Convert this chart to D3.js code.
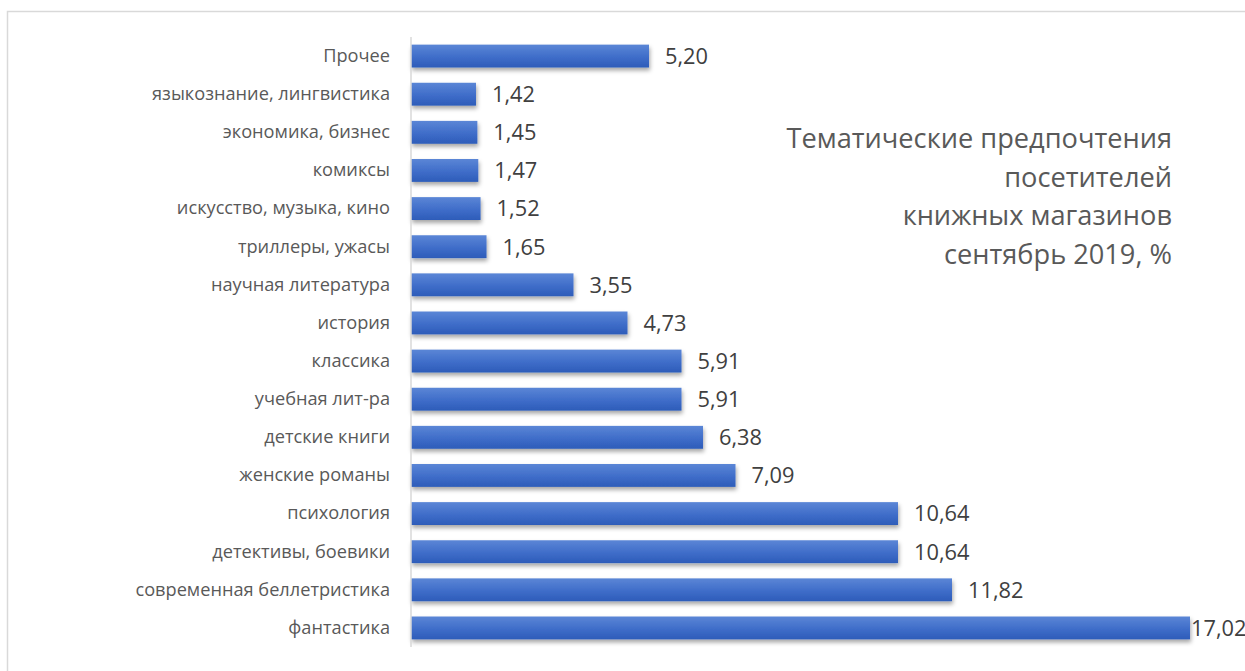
<!DOCTYPE html>
<html>
<head>
<meta charset="utf-8">
<script src="https://cdn.jsdelivr.net/npm/d3@7/dist/d3.min.js"></script>
<style>
  html, body { margin: 0; padding: 0; background: #fff; }
  svg { display: block; }
  text { font-family: "Open Sans", "Noto Sans", sans-serif; }
</style>
</head>
<body>
<svg id="chart" width="1245" height="671"></svg>
<script>
// Book genre categories, top to bottom
const categories = [
  "Прочее",
  "языкознание, лингвистика",
  "экономика, бизнес",
  "комиксы",
  "искусство, музыка, кино",
  "триллеры, ужасы",
  "научная литература",
  "история",
  "классика ",
  "учебная лит-ра",
  "детские книги",
  "женские романы",
  "психология",
  "детективы, боевики",
  "современная беллетристика",
  "фантастика"
];

// Share of visitors, %
const values = [5.20, 1.42, 1.45, 1.47, 1.52, 1.65, 3.55, 4.73, 5.91, 5.91, 6.38, 7.09, 10.64, 10.64, 11.82, 17.02];

const titleLines = [
  "Тематические предпочтения",
  "посетителей",
  "книжных магазинов",
  "сентябрь 2019, %"
];

const fmt = v => d3.format(".2f")(v).replace(".", ",");

const svg = d3.select("#chart");

// Chart frame
svg.append("rect")
  .attr("x", 7.5).attr("y", 11.5)
  .attr("width", 1300).attr("height", 700)
  .attr("fill", "none")
  .attr("stroke", "#d9d9d9")
  .attr("stroke-width", 1.5);

const defs = svg.append("defs");
const grad = defs.append("linearGradient")
  .attr("id", "barGrad")
  .attr("x1", 0).attr("y1", 0).attr("x2", 0).attr("y2", 1);
grad.append("stop").attr("offset", "0%").attr("stop-color", "#5b86d6");
grad.append("stop").attr("offset", "55%").attr("stop-color", "#3f6dc9");
grad.append("stop").attr("offset", "100%").attr("stop-color", "#2d5cb9");

const shadow = defs.append("filter")
  .attr("id", "barShadow")
  .attr("x", "-5%").attr("y", "-30%").attr("width", "115%").attr("height", "180%");
shadow.append("feDropShadow")
  .attr("dx", 1).attr("dy", 3)
  .attr("stdDeviation", 2)
  .attr("flood-color", "#000")
  .attr("flood-opacity", 0.35);

const x0 = 411;
const x = d3.scaleLinear().domain([0, 18]).range([x0, x0 + 18 * 45.77]);
const y = d3.scaleBand().domain(categories).range([37, 647]).paddingInner(0.4).paddingOuter(0.2);

// Bars
svg.append("g")
  .selectAll("rect")
  .data(categories)
  .join("rect")
  .attr("x", x(0))
  .attr("y", d => y(d))
  .attr("width", (d, i) => x(values[i]) - x(0))
  .attr("height", y.bandwidth())
  .attr("fill", "url(#barGrad)")
  .attr("filter", "url(#barShadow)");

// Category axis
const yAxis = svg.append("g")
  .attr("transform", `translate(${x0},0)`)
  .call(d3.axisLeft(y).tickSize(0).tickPadding(21));
yAxis.select(".domain")
  .attr("d", `M0,37V647`)
  .attr("stroke", "#d9d9d9")
  .attr("stroke-width", 1.5);
yAxis.selectAll("text")
  .attr("fill", "#595959")
  .attr("font-size", 18.2)
  .attr("font-family", "'Open Sans', sans-serif");

// Value labels
const plotRight = 1191;
svg.append("g")
  .selectAll("text")
  .data(categories)
  .join("text")
  .attr("x", (d, i) => Math.min(x(values[i]) + 16, plotRight))
  .attr("y", d => y(d) + y.bandwidth() / 2)
  .attr("dy", "0.36em")
  .attr("fill", "#404040")
  .attr("font-size", 21.8)
  .text((d, i) => fmt(values[i]));

// Title
svg.append("text")
  .attr("text-anchor", "end")
  .attr("fill", "#595959")
  .attr("font-size", 27.2)
  .selectAll("tspan")
  .data(titleLines)
  .join("tspan")
  .attr("x", 1172)
  .attr("y", (d, i) => 148 + i * 38.5)
  .text(d => d);
</script>
</body>
</html>
